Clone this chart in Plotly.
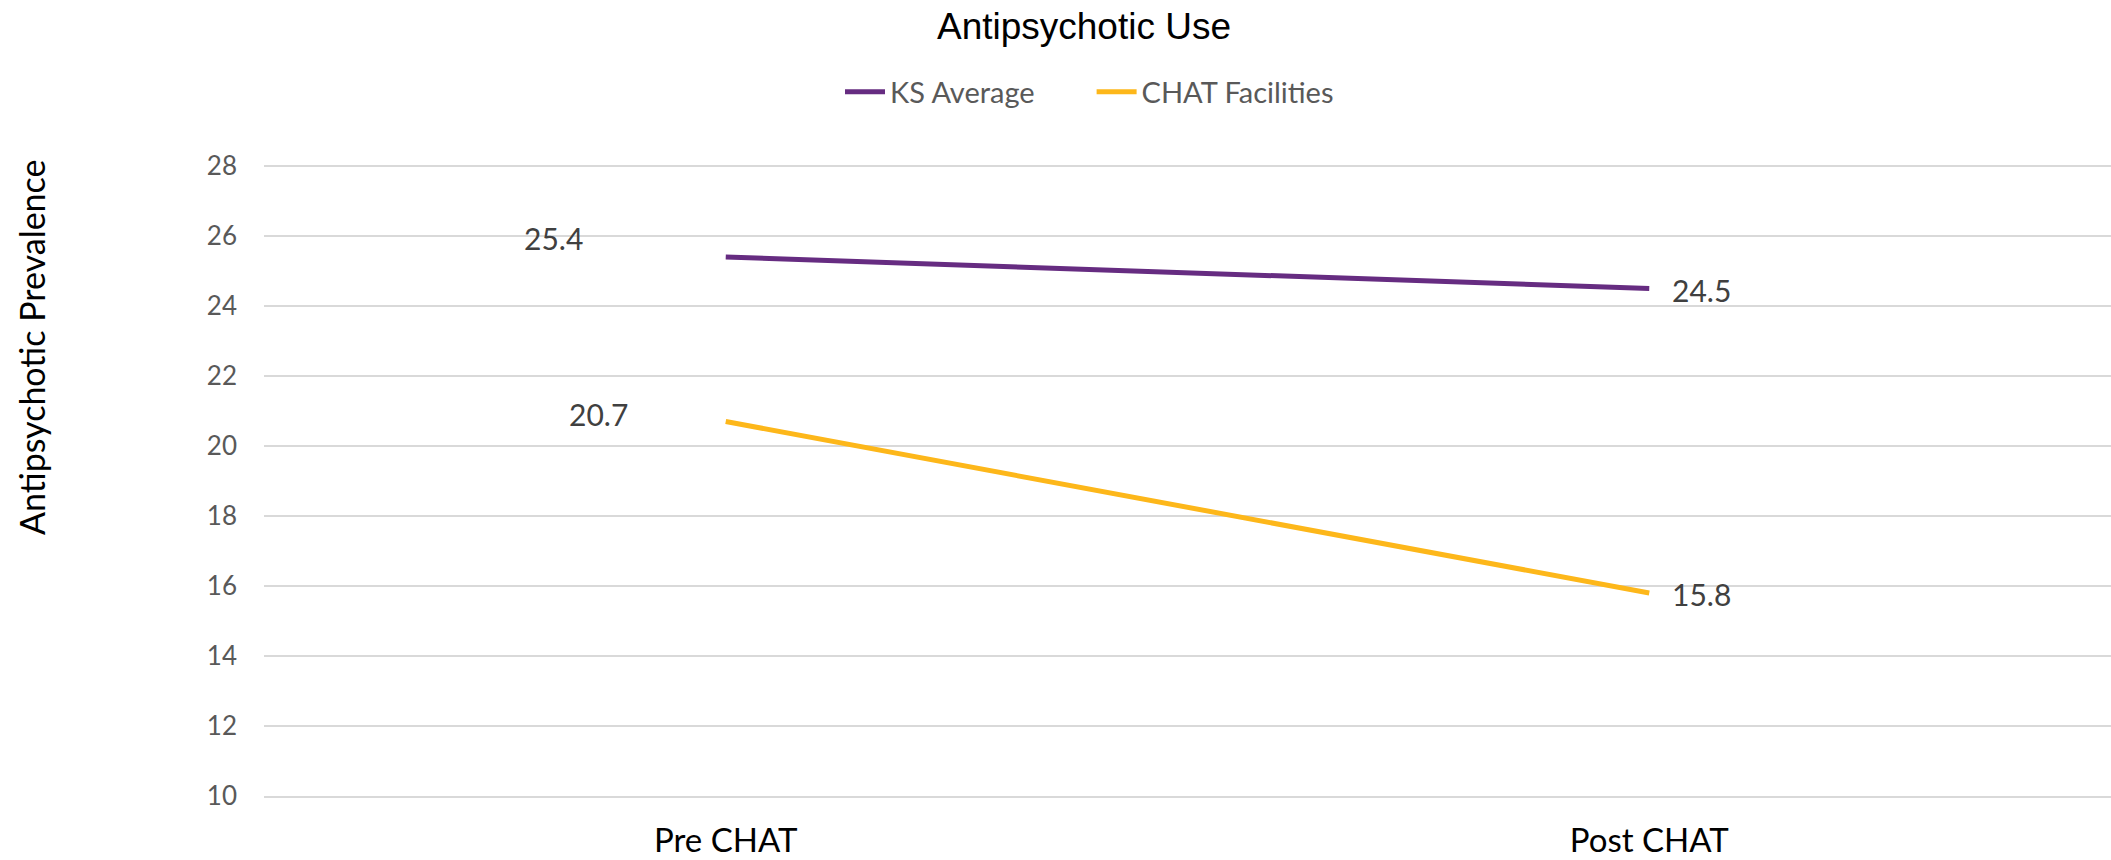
import plotly.graph_objects as go

categories = ["Pre CHAT", "Post CHAT"]
ks_average = [25.4, 24.5]
chat_facilities = [20.7, 15.8]
y_ticks = [10, 12, 14, 16, 18, 20, 22, 24, 26, 28]

PURPLE = "#662C81"
GOLD = "#FDB71A"
FONT = "Lato, Open Sans, sans-serif"

W, H = 2111, 860
L, R, T, B = 264, 0, 165, 64
pw = W - L - R
ph = H - T - B

def px_x(x):
    return (x - L) / pw

def px_y(y):
    return (H - B - y) / ph

fig = go.Figure()
fig.add_trace(go.Scatter(x=categories, y=ks_average, mode="lines",
                         name="KS Average" + "\u00a0" * 7,
                         line=dict(color=PURPLE, width=5)))
fig.add_trace(go.Scatter(x=categories, y=chat_facilities, mode="lines", name="CHAT Facilities",
                         line=dict(color=GOLD, width=5)))

# data labels
label_offsets = {
    ("KS Average", 0): (-172, 19),
    ("CHAT Facilities", 0): (-127, 8),
    ("KS Average", 1): (52, -1),
    ("CHAT Facilities", 1): (52, -1),
}
for name, vals in [("KS Average", ks_average), ("CHAT Facilities", chat_facilities)]:
    for i, v in enumerate(vals):
        dx, dy = label_offsets[(name, i)]
        fig.add_annotation(x=categories[i], y=v, text=f"{v:.1f}", showarrow=False,
                           xshift=dx, yshift=dy, xanchor="center", yanchor="middle",
                           font=dict(family=FONT, size=30, color="#404040"))

# y axis title
fig.add_annotation(xref="paper", yref="paper", x=px_x(31), y=px_y(347),
                   text="Antipsychotic Prevalence", textangle=-90, showarrow=False,
                   xanchor="center", yanchor="middle",
                   font=dict(family=FONT, size=34, color="#000000"))

fig.update_layout(
    width=W, height=H,
    margin=dict(l=L, r=R, t=T, b=B, pad=0, autoexpand=False),
    paper_bgcolor="white", plot_bgcolor="white",
    title=dict(text="Antipsychotic Use", x=1084 / W, xref="container", xanchor="center",
               y=1 - 26 / H, yref="container", yanchor="middle",
               font=dict(family="Liberation Sans, Arial, sans-serif", size=37, color="#000000")),
    legend=dict(orientation="h", x=px_x(840), y=px_y(92), xanchor="left", yanchor="middle",
                font=dict(family=FONT, size=29, color="#595959"), bgcolor="rgba(0,0,0,0)",
                itemwidth=40, tracegroupgap=0),
    showlegend=True,
    xaxis=dict(type="category", range=[-0.5, 1.5], showgrid=False, zeroline=False,
               showline=True, linecolor="#D9D9D9", linewidth=2, ticks="", ticklabelstandoff=14,
               automargin=False,
               tickfont=dict(family=FONT, size=33, color="#000000")),
    yaxis=dict(range=[10, 28.03], tickvals=y_ticks, showgrid=True, gridcolor="#D9D9D9",
               gridwidth=2, zeroline=False, showline=False, ticks="", ticklabelstandoff=26,
               automargin=False,
               tickfont=dict(family=FONT, size=26, color="#595959")),
)

fig.write_html("out.html")
